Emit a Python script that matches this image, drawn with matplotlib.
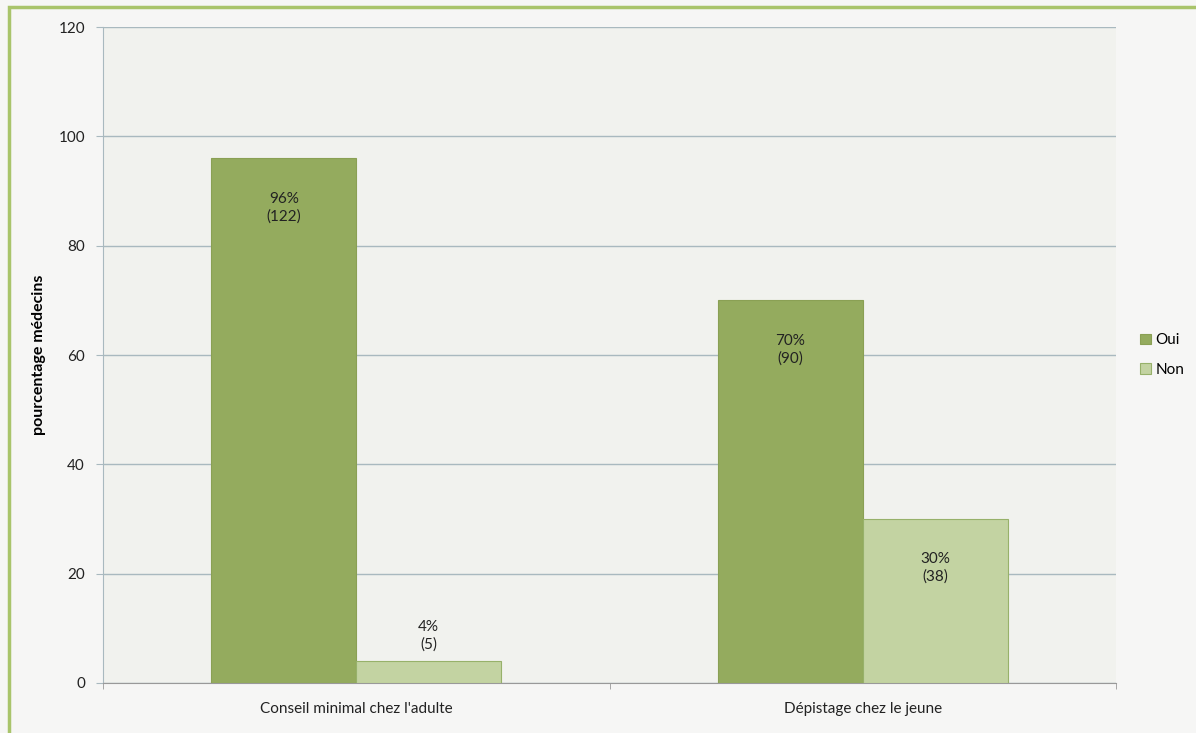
import numpy as np
import matplotlib.pyplot as plt
from matplotlib.patches import Rectangle

# données
categories = ["Conseil minimal chez l'adulte", "Dépistage chez le jeune"]
oui = [96, 70]
non = [4, 30]
oui_n = [122, 90]
non_n = [5, 38]
series_names = ['Oui', 'Non']

plt.rcParams['font.family'] = ['Lato', 'DejaVu Sans']

fig = plt.figure(figsize=(11.96, 7.33), dpi=100, facecolor='#f6f6f5')
ax = fig.add_axes([103 / 1196, 1 - 683 / 733, (1116 - 103) / 1196, (683 - 27) / 733])
ax.set_facecolor('#f1f2ee')

# cadre vert autour de la figure
fig.patches.append(Rectangle((9 / 1196, -0.05), 1.2, 1 - 7 / 733 + 0.05,
                             transform=fig.transFigure, fill=False,
                             edgecolor='#a9c46b', linewidth=2.5))

x = np.arange(len(categories))
w = 0.286
col_oui = '#94ab5e'
col_non = '#c3d3a2'

b1 = ax.bar(x - w / 2, oui, w, color=col_oui, edgecolor='#8aa054', linewidth=0.8, label=series_names[0], zorder=3)
b2 = ax.bar(x + w / 2, non, w, color=col_non, edgecolor='#97b16a', linewidth=0.8, label=series_names[1], zorder=3)

# étiquettes des barres
for xs, vals, ns in [(x - w / 2, oui, oui_n), (x + w / 2, non, non_n)]:
    for xi, v, n in zip(xs, vals, ns):
        if v > 10:
            ax.text(xi, v - 9, f'{v}%\n({n})', ha='center', va='center', fontsize=11,
                    color='#222222', linespacing=1.3, zorder=4)
        else:
            ax.text(xi, v + 4.7, f'{v}%\n({n})', ha='center', va='center', fontsize=11,
                    color='#222222', linespacing=1.3, zorder=4)

ax.set_xlim(-0.5, 1.5)
ax.set_ylim(0, 120)
ax.set_yticks(np.arange(0, 121, 20))
ax.yaxis.grid(True, color='#a9b9bf', linewidth=1.0, zorder=0)
ax.set_axisbelow(True)

ax.set_xticks(x)
ax.set_xticklabels(categories, fontsize=11, color='#222222')
ax.set_xticks([-0.5, 0.5, 1.5], minor=True)
ax.tick_params(axis='x', which='major', length=0, pad=14)
ax.tick_params(axis='x', which='minor', length=4, color='#999999')
ax.tick_params(axis='y', length=5, color='#a9b9bf', labelsize=11, labelcolor='#222222', pad=8)

for s in ['top', 'right']:
    ax.spines[s].set_visible(False)
ax.spines['left'].set_color('#a9b9bf')
ax.spines['bottom'].set_color('#999999')

ax.set_ylabel('pourcentage médecins', fontsize=11.5, fontweight='bold', labelpad=9)

ax.legend(loc='center left', bbox_to_anchor=(1.01, 0.5), frameon=False, fontsize=11,
          handlelength=0.7, handleheight=0.7, handletextpad=0.3, labelspacing=1.0)

plt.savefig('out.png', dpi=100, facecolor=fig.get_facecolor())
